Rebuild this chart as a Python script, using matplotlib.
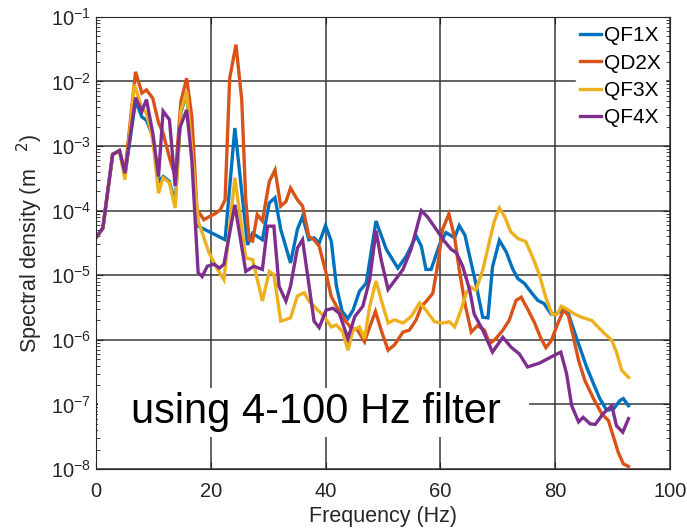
import numpy as np
import matplotlib
matplotlib.use("Agg")
import matplotlib.pyplot as plt
from matplotlib.patches import Rectangle

plt.rcParams['font.family'] = ['Liberation Sans', 'DejaVu Sans']

series_names = ["QF1X", "QD2X", "QF3X", "QF4X"]
series_colors = ["#0072BD", "#D95319", "#EDB120", "#7E2F8E"]

# QF1X (blue)
qf1x_freq = [0, 1.2, 2.9, 4.1, 5.05, 6.9, 8.0, 8.8, 9.9, 10.9, 11.7, 12.8, 13.8, 14.8, 15.8, 16.7, 17.8,
             22.5, 24.2, 26.4, 27.3, 29.0, 30.2, 31.2, 32.2, 33.9, 35.1, 36.0, 37.1, 38.0, 38.9, 40.0, 41.0,
             41.9, 42.9, 43.9, 44.8, 45.9, 47.1, 48.8, 50.6, 52.6, 54.1, 55.8, 56.7, 57.5, 58.4, 59.9, 61.0,
             62.5, 63.3, 64.3, 65.1, 66.2, 67.4, 68.3, 69.1, 70.3, 71.5, 72.6, 73.5, 74.7, 75.8, 77.0, 78.1,
             79.3, 80.2, 81.4, 82.3, 83.2, 84.4, 85.5, 86.7, 87.8, 89.0, 90.2, 91.3, 91.9, 92.8]
qf1x_log10 = [-4.42, -4.27, -3.13, -3.07, -3.45, -2.30, -2.55, -2.60, -2.85, -3.55, -3.47, -3.55, -3.88, -2.48,
              -2.18, -3.06, -4.24, -4.45, -2.72, -4.53, -4.35, -4.45, -3.88, -3.80, -4.29, -4.81, -4.29, -4.09,
              -4.45, -4.42, -4.50, -4.23, -4.47, -5.17, -5.56, -5.67, -5.54, -5.25, -5.12, -4.16, -4.60, -4.89,
              -4.70, -4.39, -4.55, -4.91, -4.91, -4.52, -4.34, -4.42, -4.23, -4.38, -4.70, -5.13, -5.65, -5.66,
              -4.87, -4.46, -4.64, -4.90, -5.05, -5.13, -5.26, -5.39, -5.44, -5.60, -5.60, -5.53, -5.59, -5.83,
              -6.14, -6.42, -6.68, -6.91, -7.09, -7.07, -6.94, -6.91, -7.02]

# QD2X (orange)
qd2x_freq = [0, 1.2, 2.9, 4.1, 5.05, 6.9, 8.0, 8.8, 9.9, 10.9, 11.7, 12.9, 13.8, 14.8, 15.8, 16.7, 17.6, 18.8,
             19.8, 20.9, 21.7, 22.5, 23.3, 24.4, 25.4, 26.1, 26.7, 27.3, 28.1, 29.0, 30.2, 31.2, 32.2, 33.1,
             33.9, 35.1, 36.0, 37.1, 38.0, 38.9, 40.0, 41.0, 42.1, 43.3, 44.5, 45.6, 46.8, 47.7, 48.7, 49.7,
             50.9, 52.0, 53.5, 54.6, 55.8, 56.7, 57.5, 58.7, 59.6, 60.4, 61.5, 62.5, 63.3, 64.3, 65.4, 66.5,
             67.7, 68.6, 69.7, 70.9, 72.0, 73.2, 74.1, 75.2, 76.4, 77.5, 78.4, 79.3, 80.6, 81.5, 82.3, 83.2,
             84.1, 85.2, 86.7, 88.1, 89.3, 90.2, 91.0, 91.9, 92.8]
qd2x_log10 = [-4.42, -4.27, -3.13, -3.07, -3.40, -1.85, -2.18, -2.13, -2.26, -2.64, -2.80, -3.21, -3.47, -2.31,
              -1.95, -2.54, -3.98, -4.14, -4.09, -4.04, -3.98, -3.83, -1.95, -1.43, -2.28, -3.83, -4.45, -4.47,
              -4.06, -4.16, -3.55, -3.37, -3.93, -3.86, -3.65, -3.83, -3.93, -4.40, -4.45, -4.55, -4.93, -5.33,
              -5.51, -5.69, -5.82, -5.85, -6.03, -5.80, -5.56, -5.85, -6.16, -6.08, -5.88, -5.85, -5.69, -5.48,
              -5.41, -5.28, -4.81, -4.29, -4.05, -4.42, -4.91, -5.44, -5.88, -5.78, -5.85, -6.06, -5.98, -5.85,
              -5.70, -5.39, -5.34, -5.52, -5.73, -5.97, -6.12, -6.02, -5.72, -5.54, -5.62, -5.96, -6.32, -6.63,
              -6.91, -7.14, -7.25, -7.51, -7.74, -7.92, -7.96]

# QF3X (yellow)
qf3x_freq = [0, 1.2, 2.9, 4.1, 5.05, 6.7, 8.0, 8.8, 9.9, 10.9, 11.7, 12.8, 13.8, 14.8, 15.8, 16.7, 17.8, 19.7,
             21.2, 22.3, 24.2, 26.1, 27.3, 29.0, 30.2, 31.0, 32.2, 33.9, 35.1, 36.3, 37.1, 38.0, 38.9, 39.8,
             41.0, 41.9, 43.0, 43.9, 44.8, 45.9, 46.8, 47.7, 48.8, 49.7, 50.9, 52.0, 53.5, 54.9, 56.4, 57.5,
             59.0, 60.4, 61.6, 62.5, 63.6, 64.5, 65.2, 66.2, 67.4, 68.6, 69.4, 70.3, 71.2, 72.3, 73.5, 74.9,
             76.1, 77.3, 78.4, 79.5, 80.4, 81.1, 82.0, 83.2, 84.6, 86.4, 87.8, 89.9, 90.7, 91.6, 92.8]
qf3x_log10 = [-4.42, -4.27, -3.13, -3.07, -3.52, -2.05, -2.41, -2.49, -2.90, -3.73, -3.49, -3.57, -3.96, -2.46,
              -2.15, -3.06, -4.16, -4.65, -4.91, -5.07, -3.49, -4.73, -4.76, -5.40, -4.94, -4.99, -5.71, -5.66,
              -5.32, -5.27, -5.40, -5.48, -5.56, -5.64, -5.80, -5.77, -5.88, -6.16, -5.85, -5.80, -5.98, -5.48,
              -5.09, -5.38, -5.74, -5.69, -5.74, -5.64, -5.43, -5.54, -5.72, -5.74, -5.72, -5.80, -5.54, -5.28,
              -5.18, -5.23, -4.92, -4.46, -4.17, -3.96, -4.09, -4.33, -4.43, -4.48, -4.72, -5.00, -5.35, -5.61,
              -5.60, -5.48, -5.52, -5.59, -5.65, -5.70, -5.83, -6.01, -6.19, -6.47, -6.58]

# QF4X (purple)
qf4x_freq = [0, 1.2, 2.9, 4.1, 5.05, 6.9, 8.0, 8.8, 9.9, 10.9, 11.7, 12.8, 13.8, 14.6, 15.8, 16.7, 17.8, 18.5,
             19.4, 20.6, 21.5, 22.3, 24.2, 26.1, 27.5, 29.0, 29.9, 31.0, 31.9, 33.1, 33.9, 35.1, 36.0, 37.1,
             38.0, 38.9, 40.1, 41.3, 42.4, 43.9, 45.1, 46.5, 47.7, 48.8, 49.7, 50.9, 52.0, 53.5, 54.9, 56.7,
             57.8, 59.3, 60.7, 61.9, 62.8, 63.9, 65.1, 65.9, 67.4, 69.1, 70.9, 72.3, 73.8, 75.2, 77.3, 79.2,
             81.0, 82.0, 82.9, 84.1, 84.9, 86.1, 87.0, 88.4, 89.9, 90.7, 91.8, 92.8]
qf4x_log10 = [-4.42, -4.27, -3.13, -3.07, -3.42, -2.25, -2.46, -2.28, -2.80, -3.47, -2.46, -2.59, -3.62, -2.72,
              -2.44, -3.21, -4.96, -5.02, -4.86, -4.83, -4.89, -4.83, -3.91, -4.94, -4.86, -4.91, -4.24, -4.24,
              -5.17, -5.40, -5.17, -4.58, -4.45, -5.14, -5.71, -5.81, -5.54, -5.51, -5.59, -5.98, -5.64, -5.48,
              -5.07, -4.31, -4.76, -5.22, -5.09, -4.91, -4.60, -4.00, -4.10, -4.29, -4.47, -4.60, -4.65, -4.86,
              -5.22, -5.60, -5.85, -6.19, -5.96, -6.11, -6.22, -6.42, -6.36, -6.27, -6.19, -6.52, -7.02, -7.27,
              -7.20, -7.30, -7.31, -7.14, -7.02, -7.33, -7.43, -7.22]

x_ticks = [0, 20, 40, 60, 80, 100]
x_label = "Frequency (Hz)"
y_label = r"Spectral density (m$\;\;\;^{2}$)"
annotation = "using 4-100 Hz filter"

fig = plt.figure(figsize=(6.87, 5.28), dpi=100)
ax = fig.add_axes([0.1397, 0.1117, 0.8353, 0.8563])

all_freq = [qf1x_freq, qd2x_freq, qf3x_freq, qf4x_freq]
all_log = [qf1x_log10, qd2x_log10, qf3x_log10, qf4x_log10]
for f, lg, name, col in zip(all_freq, all_log, series_names, series_colors):
    ax.plot(f, 10.0 ** np.array(lg), color=col, lw=2.4, label=name, solid_joinstyle='miter')

ax.set_yscale('log')
ax.set_xlim(0, 100)
ax.set_ylim(1e-8, 1e-1)
ax.set_xticks(x_ticks)
ax.set_yticks([10.0 ** k for k in range(-8, 0)])
ax.grid(True, which='major', color='#3a3a3a', lw=1.3, alpha=0.85)
ax.grid(False, which='minor')
ax.tick_params(which='both', direction='in', top=True, right=True, labelsize=14.5, colors='#262626')
ax.tick_params(axis='x', pad=9)
ax.tick_params(which='major', length=5)
ax.tick_params(which='minor', length=3)
ax.xaxis.set_minor_locator(matplotlib.ticker.NullLocator())
for sp in ax.spines.values():
    sp.set_color('#262626')
    sp.set_linewidth(0.8)

ax.set_xlabel(x_label, fontsize=15.5, color='#262626', labelpad=4)
ax.set_ylabel(y_label, fontsize=15.5, color='#262626', labelpad=4)

leg = ax.legend(loc='upper right', fontsize=15, frameon=True, fancybox=False, edgecolor='white',
                framealpha=1.0, handlelength=1.0, handletextpad=0.15, labelspacing=0.4,
                borderaxespad=0.25, borderpad=0.2)

# white box behind the annotation (covers the grid there)
ax.add_patch(Rectangle((0.003, 0.07), 0.752, 0.11, transform=ax.transAxes,
                       facecolor='white', edgecolor='none', zorder=9))
ax.text(0.383, 0.126, annotation, transform=ax.transAxes, fontsize=30, ha='center', va='center',
        color='black', zorder=10)

fig.savefig("out.png", dpi=100)
